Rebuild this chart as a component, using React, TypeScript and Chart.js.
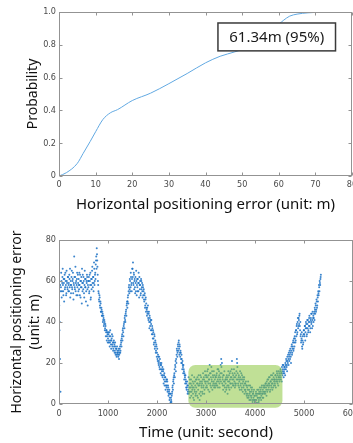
import React, { useEffect, useRef } from "react";
import { Chart, registerables } from "chart.js";

Chart.register(...registerables);

// ---------- Top chart: CDF of horizontal positioning error ----------
const cdfError = [0, 2, 5, 6.6, 8.5, 10, 12, 14, 16, 20, 25, 30, 35, 40, 44, 48, 52, 56, 60, 61.34, 63, 65, 68, 72, 76];
const cdfProb = [0, 0.02, 0.077, 0.138, 0.21, 0.27, 0.345, 0.385, 0.405, 0.46, 0.505, 0.563, 0.625, 0.69, 0.73, 0.757, 0.79, 0.85, 0.925, 0.95, 0.975, 0.987, 0.995, 0.999, 1.0];
const calloutText = "61.34m (95%)";

// ---------- Bottom chart: error over time ----------
// Samples every 10 s; each row covers 200 s. "A" rows start at the row time, "B" rows 5 s later.
const sampleStepSec = 10;
const errA0000 = [42, 36, 22, 6, 57, 60, 55, 62, 58, 53, 59, 61, 56, 64, 58, 54, 60, 57, 62, 55];
const errA0200 = [59, 63, 57, 52, 60, 58, 65, 56, 61, 54, 59, 72, 57, 62, 55, 60, 58, 64, 53, 59];
const errA0400 = [61, 56, 58, 63, 52, 60, 57, 66, 55, 59, 62, 54, 58, 61, 57, 50, 60, 63, 56, 58];
const errA0600 = [57, 62, 55, 60, 64, 52, 58, 61, 67, 57, 62, 59, 66, 60, 64, 68, 72, 76, 70, 63];
const errA0800 = [58, 54, 50, 52, 47, 49, 45, 46, 43, 44, 41, 42, 39, 40, 37, 38, 35, 36, 33, 34];
const errA1000 = [32, 34, 31, 35, 30, 33, 29, 31, 34, 28, 30, 27, 31, 29, 26, 28, 25, 27, 24, 26];
const errA1200 = [25, 23, 26, 24, 27, 25, 29, 30, 32, 34, 36, 35, 38, 40, 42, 41, 44, 46, 48, 50];
const errA1400 = [50, 53, 55, 58, 56, 60, 57, 62, 59, 61, 66, 69, 58, 63, 60, 57, 62, 55, 60, 58];
const errA1600 = [57, 61, 55, 59, 62, 56, 58, 54, 60, 57, 55, 58, 53, 56, 50, 54, 48, 52, 49, 46];
const errA1800 = [47, 45, 42, 44, 40, 43, 38, 41, 39, 36, 38, 34, 36, 32, 30, 33, 28, 30, 26, 28];
const errA2000 = [25, 22, 24, 20, 21, 18, 22, 19, 17, 20, 16, 18, 14, 17, 12, 15, 11, 13, 9, 12];
const errA2200 = [9, 11, 7, 8, 5, 7, 3, 5, 1, 2, 4, 6, 9, 11, 13, 14, 17, 19, 21, 22];
const errA2400 = [24, 26, 25, 28, 30, 27, 29, 25, 26, 22, 24, 20, 21, 18, 19, 16, 15, 13, 14, 11];
const errA2600 = [10, 8, 9, 6, 7, 5, 8, 12, 6, 10, 4, 9, 7, 11, 3, 8, 13, 6, 9, 5];
const errA2800 = [8, 12, 4, 10, 7, 14, 9, 2, 11, 6, 13, 8, 10, 5, 15, 9, 12, 7, 16, 10];
const errA3000 = [11, 14, 8, 13, 17, 10, 12, 6, 15, 9, 13, 18, 11, 7, 14, 10, 16, 9, 12, 8];
const errA3200 = [13, 10, 15, 9, 12, 17, 11, 14, 8, 13, 19, 22, 15, 10, 12, 7, 14, 9, 11, 6];
const errA3400 = [10, 13, 8, 12, 5, 11, 9, 14, 7, 12, 16, 10, 13, 21, 15, 9, 12, 17, 11, 8];
const errA3600 = [13, 10, 16, 22, 18, 12, 9, 14, 11, 7, 13, 10, 15, 8, 12, 6, 11, 9, 13, 7];
const errA3800 = [10, 6, 9, 4, 8, 5, 11, 3, 7, 5, 9, 2, 6, 4, 8, 1, 5, 3, 7, 2];
const errA4000 = [4, 1, 6, 2, 5, 0.5, 3, 7, 2, 5, 8, 3, 6, 4, 9, 5, 7, 3, 8, 6];
const errA4200 = [9, 5, 10, 7, 11, 6, 9, 12, 8, 10, 13, 7, 11, 9, 12, 14, 10, 8, 13, 11];
const errA4400 = [12, 9, 14, 11, 13, 15, 10, 12, 16, 13, 11, 14, 17, 12, 15, 18, 14, 17, 19, 16];
const errA4600 = [15, 18, 20, 17, 21, 19, 23, 20, 22, 25, 21, 24, 27, 23, 26, 29, 25, 28, 31, 27];
const errA4800 = [30, 33, 35, 31, 36, 38, 34, 40, 37, 42, 39, 44, 36, 33, 30, 32, 28, 31, 29, 34];
const errA5000 = [36, 33, 38, 35, 40, 37, 34, 39, 41, 36, 38, 43, 40, 37, 42, 39, 44, 41, 38, 43];
const errA5200 = [42, 45, 47, 44, 48, 46, 50, 48, 52, 55, 53, 57, 60, 58, 62];

const errB0000 = [48, 40, 58, 55, 64, 52, 59, 66, 55, 61, 50, 63, 57, 60, 53, 65, 59, 56, 62, 58];
const errB0200 = [55, 61, 66, 58, 54, 62, 57, 60, 64, 51, 58, 62, 56, 67, 59, 53, 61, 57, 63, 55];
const errB0400 = [58, 64, 53, 60, 57, 62, 49, 59, 63, 56, 60, 52, 65, 57, 61, 55, 59, 62, 48, 60];
const errB0600 = [60, 54, 63, 58, 51, 61, 56, 65, 59, 62, 55, 69, 58, 63, 61, 70, 66, 73, 67, 60];
const errB0800 = [55, 51, 53, 48, 50, 45, 47, 43, 45, 40, 43, 38, 41, 36, 39, 33, 36, 31, 35, 30];
const errB1000 = [35, 30, 33, 28, 36, 31, 27, 32, 29, 33, 26, 30, 28, 25, 30, 24, 27, 23, 28, 25];
const errB1200 = [24, 27, 22, 25, 28, 26, 31, 28, 33, 31, 37, 33, 39, 37, 43, 40, 45, 43, 49, 47];
const errB1400 = [52, 49, 57, 54, 61, 55, 64, 58, 55, 66, 62, 59, 64, 56, 61, 54, 59, 65, 53, 61];
const errB1600 = [55, 59, 64, 52, 58, 60, 53, 61, 56, 59, 52, 57, 55, 51, 53, 47, 51, 45, 47, 43];
const errB1800 = [44, 48, 41, 45, 37, 42, 40, 36, 41, 34, 37, 32, 35, 29, 34, 27, 31, 25, 29, 23];
const errB2000 = [27, 21, 23, 19, 23, 17, 20, 15, 19, 14, 17, 13, 16, 10, 14, 9, 13, 7, 11, 8];
const errB2200 = [12, 6, 9, 4, 6, 2, 5, 0.5, 3, 1, 5, 8, 7, 12, 10, 15, 13, 18, 16, 20];
const errB2400 = [27, 23, 29, 26, 31, 24, 28, 23, 25, 20, 22, 17, 19, 15, 17, 12, 14, 10, 12, 8];
const errB2600 = [7, 11, 5, 9, 13, 6, 10, 3, 8, 12, 6, 14, 8, 5, 10, 2, 7, 11, 4, 12];
const errB2800 = [6, 10, 13, 3, 9, 12, 5, 10, 14, 4, 9, 11, 6, 12, 8, 13, 5, 11, 14, 8];
const errB3000 = [13, 9, 16, 11, 7, 14, 12, 19, 10, 15, 8, 12, 16, 9, 13, 11, 8, 14, 10, 13];
const errB3200 = [9, 14, 11, 17, 8, 13, 16, 10, 12, 15, 11, 18, 20, 13, 9, 14, 11, 16, 8, 12];
const errB3400 = [12, 7, 14, 9, 13, 16, 8, 11, 15, 10, 13, 8, 17, 12, 10, 14, 9, 13, 15, 10];
const errB3600 = [9, 14, 12, 20, 15, 10, 13, 8, 12, 16, 9, 12, 7, 14, 10, 13, 8, 12, 5, 10];
const errB3800 = [7, 11, 5, 9, 3, 7, 4, 9, 2, 6, 4, 8, 3, 7, 2, 5, 6, 2, 4, 1];
const errB4000 = [2, 5, 0.5, 4, 7, 3, 5, 1, 6, 3, 5, 7, 2, 8, 5, 3, 6, 9, 5, 8];
const errB4200 = [6, 10, 8, 4, 9, 12, 7, 10, 13, 9, 6, 11, 14, 8, 10, 7, 12, 15, 9, 12];
const errB4400 = [10, 14, 8, 12, 16, 11, 14, 9, 13, 15, 12, 16, 13, 15, 11, 16, 19, 15, 13, 18];
const errB4600 = [17, 14, 19, 22, 18, 16, 21, 24, 19, 23, 26, 22, 25, 20, 28, 24, 27, 30, 26, 32];
const errB4800 = [28, 32, 30, 36, 33, 39, 35, 42, 38, 41, 43, 38, 40, 34, 31, 35, 27, 33, 30, 36];
const errB5000 = [34, 38, 31, 37, 39, 33, 41, 37, 35, 40, 42, 38, 35, 41, 44, 40, 37, 45, 42, 40];
const errB5200 = [44, 41, 46, 49, 45, 51, 47, 53, 50, 54, 58, 55, 59, 61, 63];

const errorRows: [number, number[]][] = [
  [0, errA0000], [200, errA0200], [400, errA0400], [600, errA0600], [800, errA0800],
  [1000, errA1000], [1200, errA1200], [1400, errA1400], [1600, errA1600], [1800, errA1800],
  [2000, errA2000], [2200, errA2200], [2400, errA2400], [2600, errA2600], [2800, errA2800],
  [3000, errA3000], [3200, errA3200], [3400, errA3400], [3600, errA3600], [3800, errA3800],
  [4000, errA4000], [4200, errA4200], [4400, errA4400], [4600, errA4600], [4800, errA4800],
  [5000, errA5000], [5200, errA5200],
  [5, errB0000], [205, errB0200], [405, errB0400], [605, errB0600], [805, errB0800],
  [1005, errB1000], [1205, errB1200], [1405, errB1400], [1605, errB1600], [1805, errB1800],
  [2005, errB2000], [2205, errB2200], [2405, errB2400], [2605, errB2600], [2805, errB2800],
  [3005, errB3000], [3205, errB3200], [3405, errB3400], [3605, errB3600], [3805, errB3800],
  [4005, errB4000], [4205, errB4200], [4405, errB4400], [4605, errB4600], [4805, errB4800],
  [5005, errB5000], [5205, errB5200],
];

// highlighted interval (seconds) and its error range (m)
const highlightTime = [2640, 4560];
const highlightError = [-1.8, 19];

const FONT = "'Noto Sans', 'DejaVu Sans', sans-serif";
const TICK_FONT = "'Liberation Sans Narrow', 'DejaVu Sans Condensed', 'Liberation Sans', sans-serif";
const TICK_COLOR = "#4a4a4a";
const FRAME_COLOR = "#939393";

const boxPlugin = {
  id: "matlabBox",
  afterDraw(chart: any) {
    const { ctx, chartArea: a, scales } = chart;
    const xs = scales.x;
    const ys = scales.y;
    const L = Math.round(a.left) + 0.5;
    const R = Math.round(a.right) - 0.5;
    const T = Math.round(a.top) + 0.5;
    const B = Math.round(a.bottom) - 0.5;
    ctx.save();
    ctx.strokeStyle = FRAME_COLOR;
    ctx.lineWidth = 1;
    ctx.strokeRect(L, T, R - L, B - T);
    ctx.beginPath();
    xs.ticks.forEach((t: any) => {
      const p = Math.round(xs.getPixelForValue(t.value)) + 0.5;
      ctx.moveTo(p, T);
      ctx.lineTo(p, T + 3);
      ctx.moveTo(p, B);
      ctx.lineTo(p, B - 3);
    });
    ys.ticks.forEach((t: any) => {
      const p = Math.round(ys.getPixelForValue(t.value)) + 0.5;
      ctx.moveTo(L, p);
      ctx.lineTo(L + 3, p);
      ctx.moveTo(R, p);
      ctx.lineTo(R - 3, p);
    });
    ctx.stroke();
    ctx.restore();
  },
};

const calloutPlugin = {
  id: "callout",
  afterDraw(chart: any) {
    const { ctx, scales } = chart;
    const x0 = scales.x.getPixelForValue(43.4);
    const x1 = scales.x.getPixelForValue(75.5);
    const y0 = scales.y.getPixelForValue(0.933);
    const y1 = scales.y.getPixelForValue(0.763);
    ctx.save();
    ctx.fillStyle = "#ffffff";
    ctx.fillRect(x0, y0, x1 - x0, y1 - y0);
    ctx.strokeStyle = "#3a3a3a";
    ctx.lineWidth = 1.5;
    ctx.strokeRect(x0, y0, x1 - x0, y1 - y0);
    ctx.fillStyle = "#1a1a1a";
    ctx.font = `15px ${FONT}`;
    ctx.textAlign = "center";
    ctx.textBaseline = "middle";
    ctx.fillText(calloutText, (x0 + x1) / 2, (y0 + y1) / 2 + 0.5);
    ctx.restore();
  },
};

const highlightPlugin = {
  id: "highlight",
  afterDatasetsDraw(chart: any) {
    const { ctx, scales } = chart;
    const x0 = scales.x.getPixelForValue(highlightTime[0]);
    const x1 = scales.x.getPixelForValue(highlightTime[1]);
    const y0 = scales.y.getPixelForValue(highlightError[1]);
    const y1 = scales.y.getPixelForValue(highlightError[0]);
    ctx.save();
    ctx.fillStyle = "rgba(141, 198, 63, 0.55)";
    ctx.beginPath();
    (ctx as any).roundRect(x0, y0, x1 - x0, y1 - y0, 7);
    ctx.fill();
    ctx.restore();
  },
};

const tickOpts = (extra: any) => ({
  color: TICK_COLOR,
  font: { family: TICK_FONT, size: 9 },
  maxRotation: 0,
  autoSkip: false,
  ...extra,
});

export default function App() {
  const topRef = useRef<HTMLCanvasElement | null>(null);
  const bottomRef = useRef<HTMLCanvasElement | null>(null);

  useEffect(() => {
    const top = new Chart(topRef.current as HTMLCanvasElement, {
      type: "line",
      data: {
        datasets: [
          {
            data: cdfError.map((e, i) => ({ x: e, y: cdfProb[i] })),
            borderColor: "#62a9e2",
            borderWidth: 1,
            pointRadius: 0,
            cubicInterpolationMode: "monotone",
            fill: false,
          },
        ],
      },
      options: {
        animation: false,
        responsive: false,
        events: [],
        layout: { padding: { left: 0, right: 18, top: 12, bottom: 0 } },
        plugins: { legend: { display: false }, tooltip: { enabled: false } },
        scales: {
          x: {
            type: "linear",
            min: 0,
            max: 80,
            ticks: tickOpts({ stepSize: 10, padding: 3 }),
            grid: { display: false, drawTicks: false },
            border: { display: false },
            title: {
              display: true,
              text: "Horizontal positioning error (unit: m)",
              color: "#111",
              font: { family: FONT, size: 15 },
              padding: { top: 0, bottom: 6 },
            },
            afterFit: (s: any) => {
              s.height = 44;
            },
          },
          y: {
            type: "linear",
            min: 0,
            max: 1,
            ticks: tickOpts({ stepSize: 0.2, padding: 3 }),
            grid: { display: false, drawTicks: false },
            border: { display: false },
            title: {
              display: true,
              text: "Probability",
              color: "#111",
              font: { family: FONT, size: 14 },
              padding: { top: 25, bottom: 0 },
            },
            afterFit: (s: any) => {
              s.width = 59;
            },
          },
        },
      } as any,
      plugins: [boxPlugin, calloutPlugin],
    });

    const points: { x: number; y: number }[] = [];
    errorRows.forEach(([start, vals]) => {
      vals.forEach((v, i) => points.push({ x: start + i * sampleStepSec, y: v }));
    });

    const bottom = new Chart(bottomRef.current as HTMLCanvasElement, {
      type: "scatter",
      data: {
        datasets: [
          {
            data: points,
            backgroundColor: "rgba(25, 112, 196, 0.85)",
            borderWidth: 0,
            pointRadius: 1,
          },
        ],
      },
      options: {
        animation: false,
        responsive: false,
        events: [],
        layout: { padding: { left: 0, right: 17, top: 20, bottom: 0 } },
        plugins: { legend: { display: false }, tooltip: { enabled: false } },
        scales: {
          x: {
            type: "linear",
            min: 0,
            max: 6000,
            ticks: tickOpts({ stepSize: 1000, padding: 4, callback: (v: any) => String(v) }),
            grid: { display: false, drawTicks: false },
            border: { display: false },
            title: {
              display: true,
              text: "Time (unit: second)",
              color: "#111",
              font: { family: FONT, size: 15 },
              padding: { top: 0, bottom: 1 },
            },
            afterFit: (s: any) => {
              s.height = 39;
            },
          },
          y: {
            type: "linear",
            min: 0,
            max: 80,
            ticks: tickOpts({ stepSize: 20, padding: 3 }),
            grid: { display: false, drawTicks: false },
            border: { display: false },
            title: {
              display: true,
              text: ["Horizontal positioning error", "(unit: m)"],
              color: "#111",
              font: { family: FONT, size: 14, lineHeight: "18px" },
              padding: { top: 8, bottom: 0 },
            },
            afterFit: (s: any) => {
              s.width = 59;
            },
          },
        },
      } as any,
      plugins: [highlightPlugin, boxPlugin],
    });

    return () => {
      top.destroy();
      bottom.destroy();
    };
  }, []);

  return (
    <div style={{ position: "absolute", left: 0, top: 0, width: 353, height: 443, overflow: "hidden", background: "#fff" }}>
      <canvas ref={topRef} width={370} height={220} style={{ position: "absolute", left: 0, top: 0, width: 370, height: 220 }} />
      <canvas ref={bottomRef} width={370} height={223} style={{ position: "absolute", left: 0, top: 220, width: 370, height: 223 }} />
    </div>
  );
}
